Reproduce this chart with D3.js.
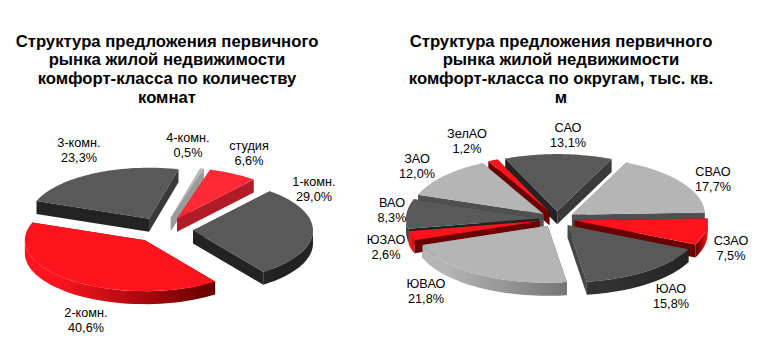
<!DOCTYPE html>
<html>
<head>
<meta charset="utf-8">
<script src="https://cdn.jsdelivr.net/npm/d3@7"></script>
<style>
  html, body { margin: 0; padding: 0; background: #fff; }
  text { font-family: "Liberation Sans", Arial, sans-serif; fill: #000; }
  .title { font-size: 16.7px; font-weight: bold; text-anchor: middle; }
  .label { font-size: 12.7px; text-anchor: middle; }
</style>
</head>
<body>
<svg id="chart" width="775" height="363"></svg>
<script>
// Data
const roomCategories = ["студия", "1-комн.", "2-комн.", "3-комн.", "4-комн."];
const roomValues = [6.6, 29.0, 40.6, 23.3, 0.5];
const roomTitle = ["Структура предложения первичного", "рынка жилой недвижимости", "комфорт-класса по количеству", "комнат"];

const districtCategories = ["САО", "СВАО", "СЗАО", "ЮАО", "ЮВАО", "ЮЗАО", "ВАО", "ЗАО", "ЗелАО"];
const districtValues = [13.1, 17.7, 7.5, 15.8, 21.8, 2.6, 8.3, 12.0, 1.2];
const districtTitle = ["Структура предложения первичного", "рынка жилой недвижимости", "комфорт-класса по округам, тыс. кв.", "м"];

// Face colours: top, start cut, end cut, rim left, rim right
const roomStyles = [
  { top: "#ff2a35", start: "#b01c26", end: "#b01c26", rimL: "#b01c26", rimR: "#b01c26" },
  { top: "#595959", start: "#232323", end: "#232323", rimL: "#232323", rimR: "#232323" },
  { top: "#ff141e", start: "#6a0000", end: "#6a0000", rimL: "#ff141e", rimR: "#640000" },
  { top: "#595959", start: "#232323", end: "#3a3a3a", rimL: "#232323", rimR: "#232323" },
  { top: "#b8b8b8", start: "#9a9a9a", end: "#9a9a9a", rimL: "#9a9a9a", rimR: "#9a9a9a" }
];
const districtStyles = [
  { top: "#595959", start: "#232323", end: "#3a3a3a", rimL: "#232323", rimR: "#232323" },
  { top: "#b5b5b5", start: "#505050", end: "#505050", rimL: "#505050", rimR: "#505050" },
  { top: "#ff141e", start: "#6a0000", end: "#6a0000", rimL: "#6a0000", rimR: "#ff141e" },
  { top: "#595959", start: "#232323", end: "#474747", rimL: "#333333", rimR: "#232323" },
  { top: "#b5b5b5", start: "#505050", end: "#505050", rimL: "#b5b5b5", rimR: "#757575" },
  { top: "#ff141e", start: "#6a0000", end: "#6a0000", rimL: "#ff141e", rimR: "#c80f16" },
  { top: "#595959", start: "#232323", end: "#232323", rimL: "#444444", rimR: "#444444" },
  { top: "#b5b5b5", start: "#505050", end: "#505050", rimL: "#505050", rimR: "#505050" },
  { top: "#ff141e", start: "#6a0000", end: "#6a0000", rimL: "#6a0000", rimR: "#6a0000" }
];

const roomLabelPos = [[249, 146], [314, 182], [86, 313], [79, 143], [188, 138]];
const districtLabelPos = [[568, 128], [713, 172], [731, 241], [671, 289], [426, 284], [386, 240], [392, 203], [417, 159], [467, 134]];

const svg = d3.select("#chart");
const defs = svg.append("defs");
const line = d3.line();
const rad = d => d * Math.PI / 180;

drawPie({
  id: "rooms", categories: roomCategories, values: roomValues, styles: roomStyles,
  labelPos: roomLabelPos, title: roomTitle, titleX: 167,
  cx: 163, cy: 230, r: 120, squash: 0.425, explode: 30, depth: 13, startDeg: 16
});
drawPie({
  id: "districts", categories: districtCategories, values: districtValues, styles: districtStyles,
  labelPos: districtLabelPos, title: districtTitle, titleX: 561,
  cx: 557, cy: 219, r: 133, squash: 0.43, explode: 18, depth: 13, startDeg: -23
});

function drawPie(o) {
  const pie = d3.pie().sort(null)
    .startAngle(rad(o.startDeg))
    .endAngle(rad(o.startDeg + 360));
  const arcs = pie(o.values);

  const slices = arcs.map((d, i) => {
    const mid = (d.startAngle + d.endAngle) / 2;
    const ox = o.cx + o.explode * Math.sin(mid);
    const oy = o.cy - o.explode * Math.cos(mid) * o.squash;
    const point = (a, dz) => [ox + o.r * Math.sin(a), oy - o.r * Math.cos(a) * o.squash + dz];
    return { d, i, mid, ox, oy, point, style: o.styles[i] };
  });

  // back slices first so the front ones cover them
  slices.sort((a, b) => d3.ascending(-Math.cos(a.mid), -Math.cos(b.mid)));

  const g = svg.append("g");
  slices.forEach(s => {
    const { d, ox, oy, point, style } = s;
    const sg = g.append("g");
    const arcPoints = (a0, a1, dz) => d3.range(0, 41).map(k => point(a0 + (a1 - a0) * k / 40, dz));

    // cut faces from the apex to both ends of the arc
    [[d.startAngle, style.start], [d.endAngle, style.end]].forEach(([a, color]) => {
      const top = point(a, 0), bottom = point(a, o.depth);
      sg.append("path")
        .attr("d", line([[ox, oy], top, bottom, [ox, oy + o.depth]]) + "Z")
        .attr("fill", color);
    });

    // outer rim, only the part that faces the viewer
    const a0 = Math.max(d.startAngle, rad(90));
    const a1 = Math.min(d.endAngle, rad(270));
    if (a1 > a0) {
      const edge = arcPoints(a0, a1, 0);
      const rim = edge.concat(arcPoints(a1, a0, o.depth));
      const xs = d3.extent(edge, p => p[0]);
      const gradId = `rim-${o.id}-${s.i}`;
      const grad = defs.append("linearGradient")
        .attr("id", gradId)
        .attr("gradientUnits", "userSpaceOnUse")
        .attr("x1", xs[0]).attr("x2", xs[1]).attr("y1", 0).attr("y2", 0);
      grad.append("stop").attr("offset", "0.15").attr("stop-color", style.rimL);
      grad.append("stop").attr("offset", "1").attr("stop-color", style.rimR);
      sg.append("path")
        .attr("d", line(rim) + "Z")
        .attr("fill", `url(#${gradId})`);
    }

    // top surface
    sg.append("path")
      .attr("d", line([[ox, oy]].concat(arcPoints(d.startAngle, d.endAngle, 0))) + "Z")
      .attr("fill", style.top);
  });

  const labels = svg.append("g");
  o.categories.forEach((name, i) => {
    const [x, y] = o.labelPos[i];
    const text = labels.append("text").attr("class", "label").attr("x", x);
    text.append("tspan").attr("x", x).attr("y", y + 4).text(name);
    text.append("tspan").attr("x", x).attr("y", y + 19)
      .text(o.values[i].toFixed(1).replace(".", ",") + "%");
  });

  const titleY = d3.scaleLinear().domain([0, 3]).range([46.5, 103]);
  o.title.forEach((t, i) => {
    svg.append("text").attr("class", "title")
      .attr("x", o.titleX).attr("y", titleY(i)).text(t);
  });
}
</script>
</body>
</html>
